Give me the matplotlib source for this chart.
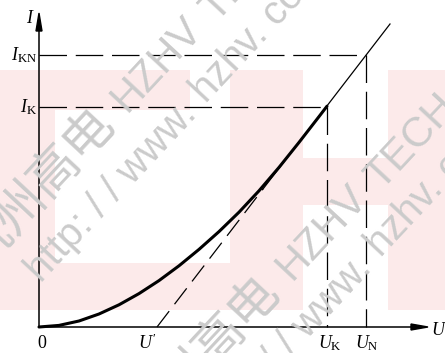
import matplotlib
matplotlib.use("Agg")
import matplotlib.pyplot as plt
from matplotlib.patches import Rectangle, Polygon

plt.rcParams['mathtext.fontset'] = 'custom'
plt.rcParams['mathtext.rm'] = 'Liberation Serif'
plt.rcParams['mathtext.it'] = 'Liberation Serif:italic'

# Kennlinie I(U)
curve_u = [0, 20, 40, 60, 80, 100, 120, 140, 160, 180, 200, 220, 240, 260, 280, 288]
curve_i = [0, 1.6, 6.0, 13.0, 22.2, 33.4, 46.4, 61.2, 77.6, 95.4, 114.8, 136.2, 159.6, 184.6, 210.4, 220.8]

# Tangente (durch U')
tangent_u = [118, 224, 351]
tangent_i = [0, 138, 303]

U_prime = 118
U_K = 288
U_N = 327
I_K = 220
I_KN = 272

fig = plt.figure(figsize=(4.45, 3.53), dpi=100)
ax = fig.add_axes([0, 0, 1, 1])
ax.set_xlim(-39, 406)
ax.set_ylim(-26, 327)
ax.axis('off')

# --- Wasserzeichen (rosa Flaechen) ---
pink = '#fceaea'
blocks = [(-39, 217, 190, 40), (-39, 17, 55, 240), (-39, 17, 232, 47),
          (191, 17, 73, 240), (264, 122, 87, 47), (349, 17, 60, 240)]
for x0, y0, w, h in blocks:
    ax.add_patch(Rectangle((x0, y0), w, h, facecolor=pink, edgecolor='none', zorder=0))

# Wasserzeichen-Schrift (in Pixelkoordinaten der Abbildung)
def wm(x, y, s, ha, size):
    fig.text(x / 445, 1 - y / 353, s, fontsize=size, rotation=47, rotation_mode='anchor',
             ha=ha, va='center', color='#cbcbcb', zorder=1, fontweight='light',
             family=['Liberation Sans', 'Noto Sans CJK SC'])

for dx, dy in [(0, 0), (165, 168)]:
    wm(38 + dx, 190 + dy, '杭州高电', 'center', 36)
    wm(157 + dx, 64 + dy, 'HZHV', 'center', 30)
    wm(208 + dx, 15 + dy, 'TECH', 'left', 30)
for dx, dy in [(0, 0), (175, 154)]:
    wm(190 + dx, 108 + dy, 'http: / / www.', 'right', 29)
    wm(198 + dx, 96 + dy, 'hzhv. com', 'left', 29)

# --- Achsen ---
ax.plot([0, 0], [0, 300], color='black', lw=1.1, zorder=3)
ax.plot([0, 378], [0, 0], color='black', lw=1.1, zorder=3)
ax.add_patch(Polygon([[0, 314], [-3, 296], [3, 296]], closed=True, color='black', zorder=3))
ax.add_patch(Polygon([[389, 0], [372, 3], [372, -3]], closed=True, color='black', zorder=3))

# Hilfslinien
ax.plot([0, U_N], [I_KN, I_KN], color='black', lw=0.9, dashes=(22, 7), zorder=2)
ax.plot([0, U_K], [I_K, I_K], color='black', lw=0.9, dashes=(22, 7), zorder=2)
ax.plot([U_K, U_K], [I_K, 0], color='black', lw=0.9, dashes=(22, 7), zorder=2)
ax.plot([U_N, U_N], [I_KN, 0], color='black', lw=0.9, dashes=(22, 7), zorder=2)

# Tangente: gestrichelt bis zum Beruehrpunkt, danach durchgezogen
ax.plot(tangent_u[:2], tangent_i[:2], color='black', lw=0.9, dashes=(16, 7), zorder=2)
ax.plot(tangent_u[1:], tangent_i[1:], color='black', lw=0.9, zorder=2)

# Kennlinie
ax.plot(curve_u, curve_i, color='black', lw=2.2, solid_capstyle='round',
        solid_joinstyle='round', zorder=4)

# Beschriftungen
fs = 13
ax.text(-9, 309, '$I$', fontsize=fs, ha='center', va='center')
ax.text(-2, I_KN, r'$I_{\rm KN}$', fontsize=fs, ha='right', va='center')
ax.text(-2, I_K, r'$I_{\rm K}$', fontsize=fs, ha='right', va='center')
ax.text(3, -16, '0', fontsize=fs, ha='center', va='center', family='Liberation Serif')
ax.text(108, -16, "$U'$", fontsize=fs, ha='center', va='center')
ax.text(U_K + 3, -16, r'$U_{\rm K}$', fontsize=fs, ha='center', va='center')
ax.text(U_N + 1, -16, r'$U_{\rm N}$', fontsize=fs, ha='center', va='center')
ax.text(400, -3, '$U$', fontsize=fs, ha='center', va='center')

fig.savefig('out.png', dpi=100)
